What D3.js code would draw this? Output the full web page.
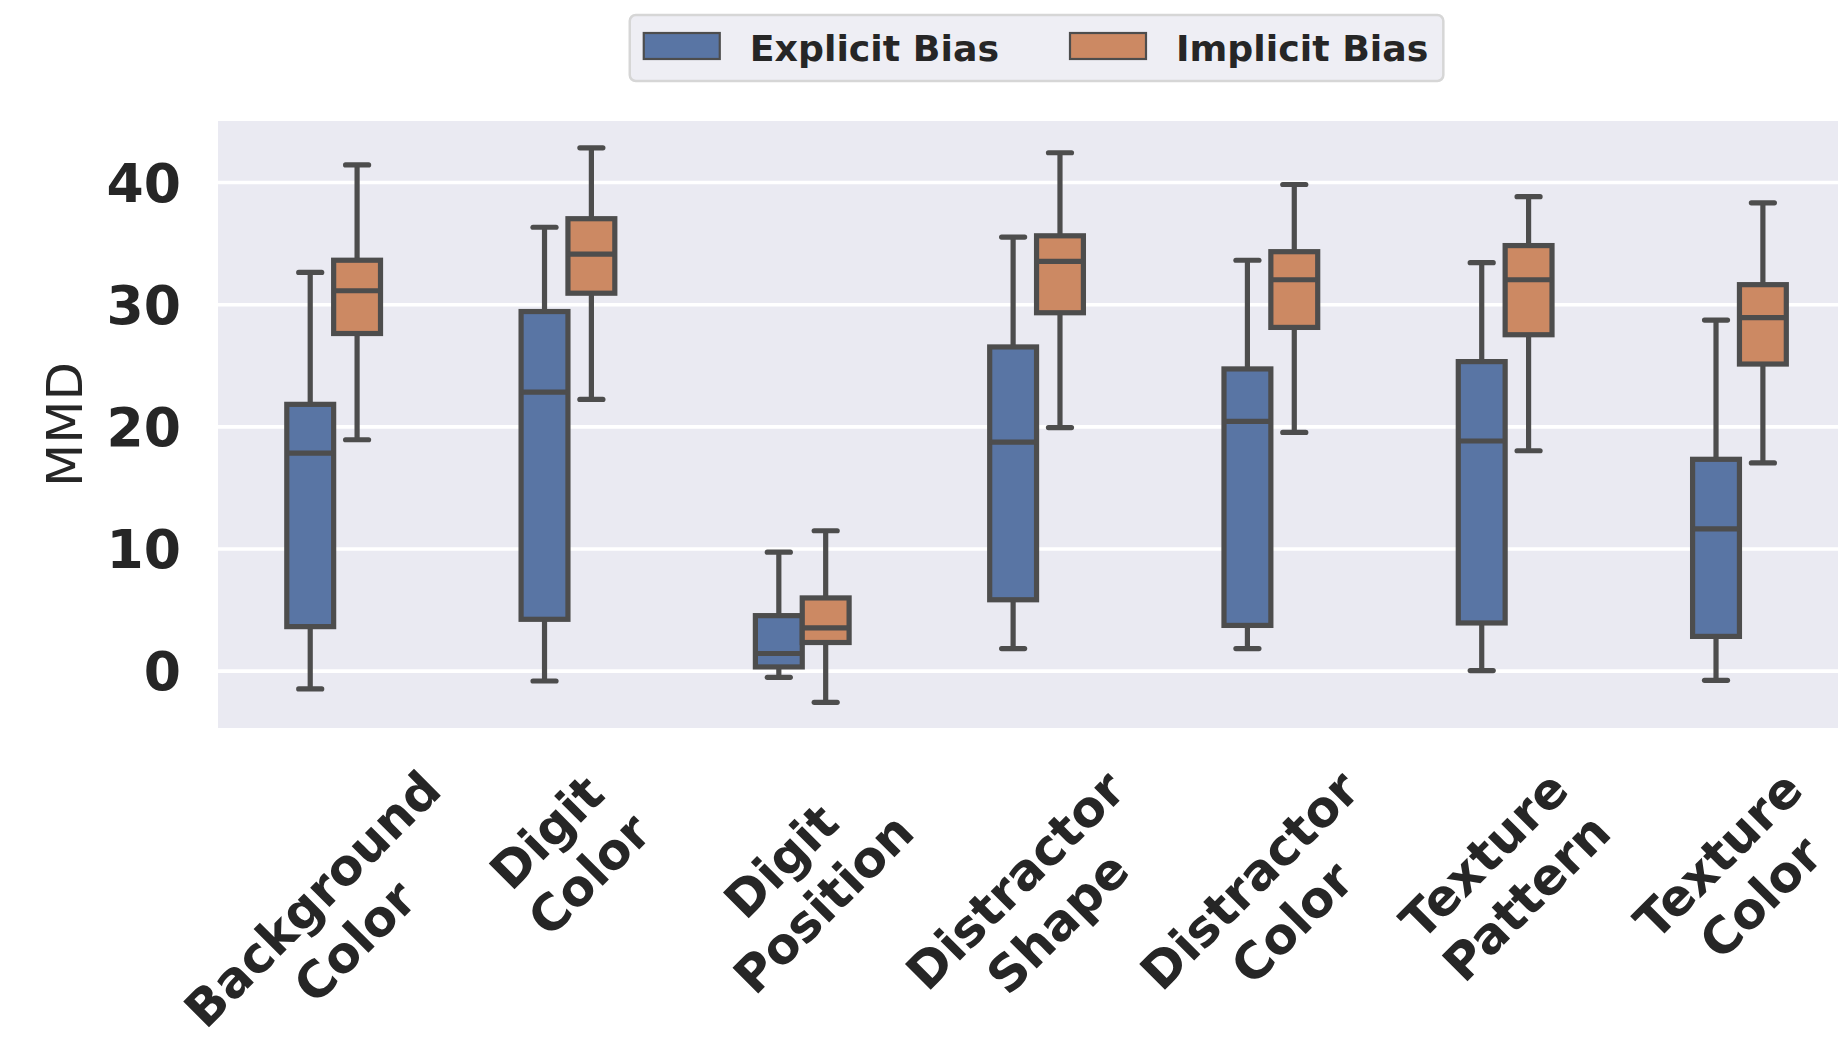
<!DOCTYPE html>
<html><head><meta charset="utf-8">
<script src="https://cdn.jsdelivr.net/npm/d3@7"></script>
<style>
html,body{margin:0;padding:0;background:#fff;}
svg{display:block;font-family:"DejaVu Sans",sans-serif;}
</style>
</head><body>
<svg id="chart" width="1838" height="1037"></svg>
<script>
// ---- data ----
const categories = ["Background Color","Digit Color","Digit Position","Distractor Shape","Distractor Color","Texture Pattern","Texture Color"];
const seriesNames = ["Explicit Bias","Implicit Bias"];
// five-number summaries per category: [whisker low, Q1, median, Q3, whisker high]
const explicitBias = [
  [-1.5, 3.6, 17.8, 21.8, 32.6],
  [-0.85, 4.2, 22.8, 29.4, 36.3],
  [-0.55, 0.3, 1.4, 4.5, 9.7],
  [1.8, 5.8, 18.7, 26.5, 35.5],
  [1.8, 3.7, 20.4, 24.7, 33.6],
  [0.0, 3.9, 18.8, 25.3, 33.4],
  [-0.8, 2.8, 11.6, 17.3, 28.7]
];
const implicitBias = [
  [18.9, 27.6, 31.1, 33.6, 41.4],
  [22.2, 30.9, 34.1, 37.0, 42.8],
  [-2.6, 2.3, 3.5, 5.95, 11.45],
  [19.9, 29.3, 33.5, 35.6, 42.4],
  [19.5, 28.1, 32.0, 34.3, 39.8],
  [18.0, 27.5, 32.0, 34.8, 38.8],
  [17.0, 25.1, 28.9, 31.6, 38.3]
];
const yTicks = [0, 10, 20, 30, 40];
const yLabel = "MMD";
const seriesColors = ["#5975a4", "#cc8963"];

// ---- layout ----
const W = 1838, H = 1037;
const band = 234.3;
const axLeft = 216.5, plotLeft = 218, plotTop = 121, plotBottom = 728;
const lineColor = "#4d4d4d", textColor = "#262626";
const c45 = Math.SQRT1_2;

const svg = d3.select("#chart");

const x = d3.scaleBand().domain(categories).range([axLeft, axLeft + band * categories.length]).padding(0);
const sub = d3.scaleBand().domain(seriesNames).range([band * 0.3, band * 0.7]).padding(0);
const y = d3.scaleLinear().domain([-4.7, 45.0]).range([plotBottom, plotTop]);

// background
svg.append("rect").attr("x", plotLeft).attr("y", plotTop)
  .attr("width", W - plotLeft).attr("height", plotBottom - plotTop)
  .attr("fill", "#eaeaf2");

// y axis with grid
const yAxis = svg.append("g").attr("transform", `translate(${plotLeft},0)`)
  .call(d3.axisLeft(y).tickValues(yTicks).tickSize(-(W - plotLeft)).tickPadding(37).tickFormat(d3.format("d")));
yAxis.select(".domain").remove();
yAxis.selectAll(".tick line").attr("stroke", "#ffffff").attr("stroke-width", 3.6);
yAxis.selectAll(".tick text").attr("fill", textColor).attr("font-size", 53.5).attr("font-weight", "bold")
  .attr("font-family", "DejaVu Sans").attr("dy", "0.36em");

// y label
svg.append("text").attr("transform", `translate(64,${(plotTop + plotBottom) / 2}) rotate(-90)`)
  .attr("text-anchor", "middle").attr("dy", "0.36em")
  .attr("font-size", 50).attr("fill", textColor).text(yLabel);

// boxes
const boxW = sub.bandwidth();
const capHalf = 11.5;
const sw = 5.2;
const allSeries = [explicitBias, implicitBias];
seriesNames.forEach((s, si) => {
  const g = svg.append("g");
  categories.forEach((cat, ci) => {
    const st = allSeries[si][ci];
    const cx = x(cat) + sub(s) + boxW / 2;
    const bg = g.append("g");
    bg.append("line").attr("x1", cx).attr("x2", cx).attr("y1", y(st[0])).attr("y2", y(st[1]))
      .attr("stroke", lineColor).attr("stroke-width", sw);
    bg.append("line").attr("x1", cx).attr("x2", cx).attr("y1", y(st[3])).attr("y2", y(st[4]))
      .attr("stroke", lineColor).attr("stroke-width", sw);
    [st[0], st[4]].forEach(v => {
      bg.append("line").attr("x1", cx - capHalf).attr("x2", cx + capHalf).attr("y1", y(v)).attr("y2", y(v))
        .attr("stroke", lineColor).attr("stroke-width", sw).attr("stroke-linecap", "round");
    });
    bg.append("rect").attr("x", cx - boxW / 2).attr("y", y(st[3]))
      .attr("width", boxW).attr("height", y(st[1]) - y(st[3]))
      .attr("fill", seriesColors[si]).attr("stroke", lineColor).attr("stroke-width", sw);
    bg.append("line").attr("x1", cx - boxW / 2).attr("x2", cx + boxW / 2).attr("y1", y(st[2])).attr("y2", y(st[2]))
      .attr("stroke", lineColor).attr("stroke-width", sw);
  });
});

// x axis tick labels (two lines, rotated 45, centred)
const xfs = 50;
const xAxis = svg.append("g").attr("transform", `translate(0,${plotBottom})`)
  .call(d3.axisBottom(x).tickSize(0).tickFormat(""));
xAxis.select(".domain").remove();
const labelTop = 759;
xAxis.selectAll(".tick").each(function(d) {
  const tick = d3.select(this);
  tick.selectAll("text").remove();
  const lines = d.split(" ");
  const lg = tick.append("g");
  const t = lg.append("text").attr("text-anchor", "middle").attr("font-size", xfs)
    .attr("font-weight", "bold").attr("fill", textColor).attr("font-family", "DejaVu Sans");
  lines.forEach((ln, i) => {
    t.append("tspan").attr("x", 0).attr("y", (-0.25 + 1.2 * i) * xfs).text(ln);
  });
  let wMax = 0;
  t.selectAll("tspan").each(function() { wMax = Math.max(wMax, this.getComputedTextLength()); });
  const hBlock = 1.2 * xfs * lines.length;
  const cy = labelTop - plotBottom + c45 * (wMax + hBlock) / 2;
  lg.attr("transform", `translate(0,${cy}) rotate(-45)`);
});

// legend
const legFs = 36.3;
const leg = svg.append("g");
const legBox = leg.append("rect");
let cur = 14;
seriesNames.forEach((s, i) => {
  leg.append("rect").attr("x", cur).attr("y", 18).attr("width", 76).attr("height", 26)
    .attr("fill", seriesColors[i]).attr("stroke", lineColor).attr("stroke-width", 2.2);
  const tx = cur + 76 + 30;
  const tt = leg.append("text").attr("x", tx).attr("y", 33).attr("dy", "0.36em")
    .attr("font-size", legFs).attr("font-weight", "bold").attr("fill", textColor).text(s);
  cur = tx + tt.node().getComputedTextLength() + (i < seriesNames.length - 1 ? 71 : 0);
});
const legW = cur + 15;
legBox.attr("x", 0).attr("y", 0).attr("width", legW).attr("height", 66).attr("rx", 6)
  .attr("fill", "#eeeef4").attr("stroke", "#d6d6d6").attr("stroke-width", 2.5);
const axCenter = axLeft + band * categories.length / 2;
leg.attr("transform", `translate(${axCenter - legW / 2},15)`);
</script>
</body></html>
